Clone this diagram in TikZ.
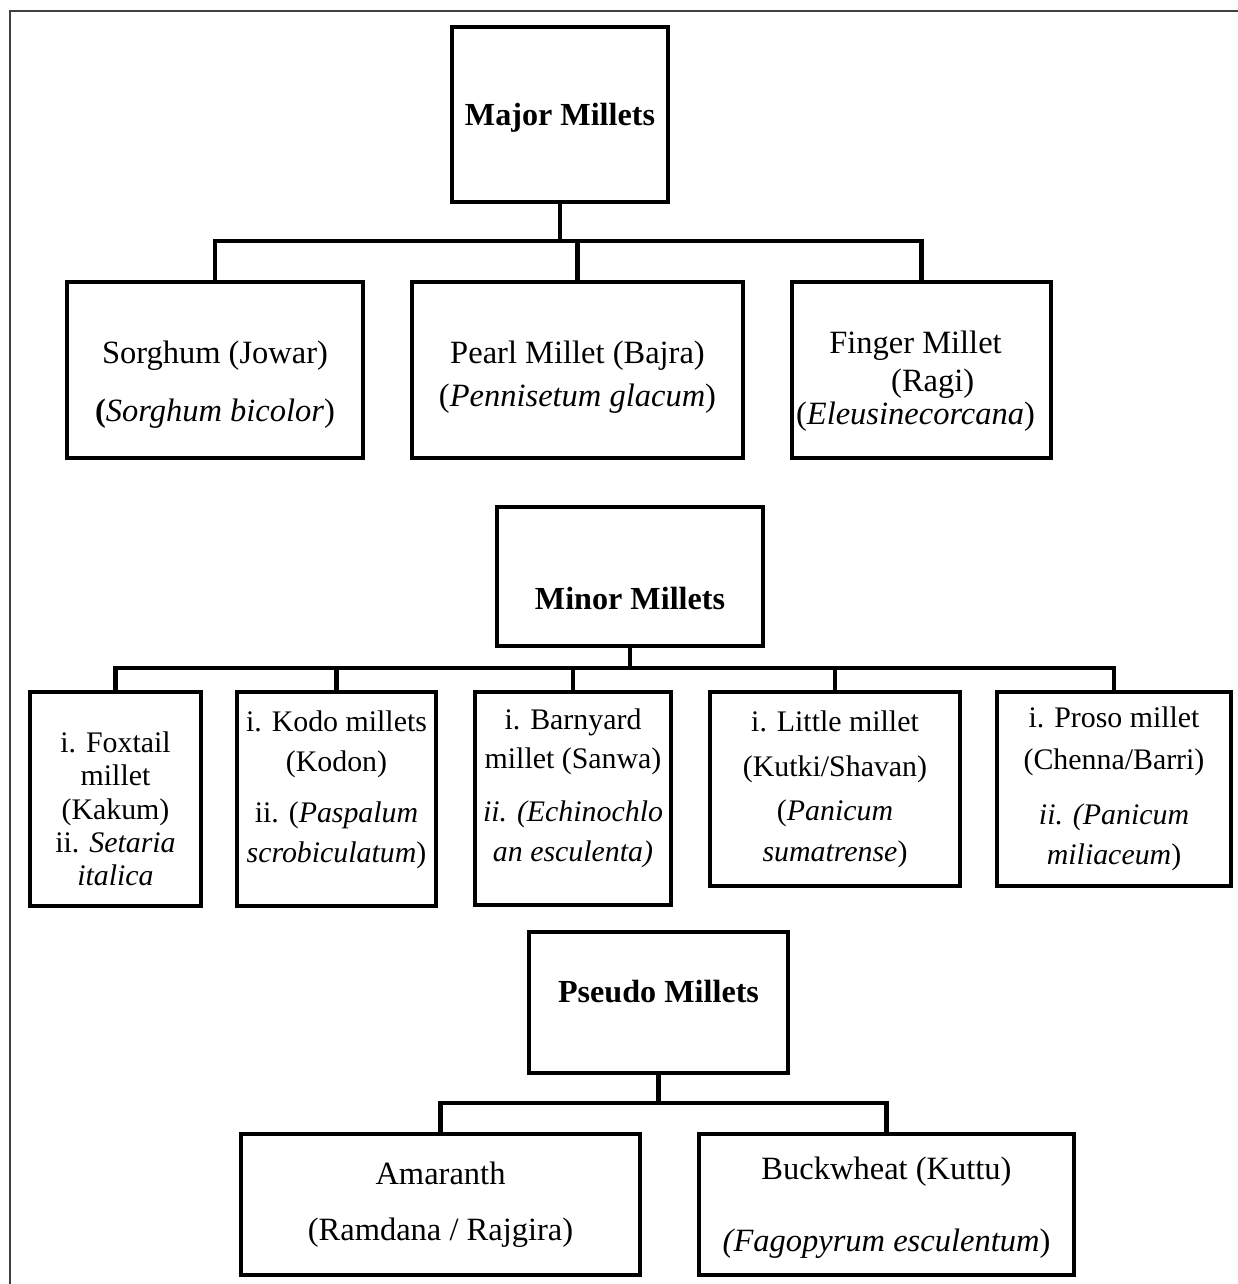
\documentclass[tikz,border=0pt]{standalone}
\usepackage{fontspec}
\setmainfont{Liberation Serif}
\usetikzlibrary{positioning,calc}
\tikzset{
	millbox/.style={draw,line width=2.4pt,align=center,inner sep=0pt,font=\fontsize{17}{19}\selectfont},
	bigbox/.style={millbox,font=\fontsize{18.5}{20.5}\selectfont},
	headbox/.style={millbox,font=\fontsize{18.3}{20}\selectfont\bfseries},
	edge/.style={color=black,line width=2.4pt},
	frame/.style={color=black!75,line width=0.8pt}
}
\begin{document}
\begin{tikzpicture}[x=0.02cm,y=-0.02cm]
	\useasboundingbox (0,0) rectangle (1237,1284);
	\draw[frame] (10,1290) -- (10,11) -- (1245,11);
	
	%%%% major millets
	\node[headbox,minimum width=4.32cm,minimum height=3.5cm,text height=12pt,text depth=0pt] (major) at (560,114.5) {Major Millets};
	\node[bigbox,minimum width=5.92cm,minimum height=3.52cm] (sorghum) at (215,370) {\rule{0pt}{29pt}Sorghum (Jowar)\\[12.5pt] \textbf{(}\textit{Sorghum bicolor})};
	\node[bigbox,minimum width=6.62cm,minimum height=3.52cm] (pearl) at (577.5,370) {\rule{0pt}{21pt}Pearl Millet (Bajra)\\[3.5pt] (\textit{Pennisetum glacum})};
	\node[bigbox,minimum width=5.18cm,minimum height=3.52cm] (finger) at (921.5,370) {\rule{0pt}{25.5pt}Finger Millet\hspace*{0.24cm}\\[1pt] \hspace*{0.45cm}(Ragi)\hspace*{0.24cm}\\[-2pt] (\textit{Eleusinecorcana})\hspace*{0.24cm}};
	\coordinate (majbar) at (0,241);
	\draw[edge] (major.south) -- (major.south |- majbar);
	\draw[edge] (sorghum.north) |- (finger.north |- majbar) -- (finger.north);
	\draw[edge] (pearl.north) -- (pearl.north |- majbar);
	
	%%%% minor millets
	\node[headbox,minimum width=5.32cm,minimum height=2.78cm,text height=38pt,text depth=0pt] (minor) at (630,576.5) {Minor Millets};
	\node[millbox,minimum width=3.42cm,minimum height=4.28cm] (foxtail) at (115.5,799) {\rule{0pt}{23pt}i. Foxtail\\ millet\\ (Kakum)\\ ii. \textit{Setaria}\\ \textit{italica}};
	\node[millbox,minimum width=3.98cm,minimum height=4.28cm] (kodo) at (336.5,799) {i. Kodo millets\\[4pt] (Kodon)\\[10pt] ii. (\textit{Paspalum}\\[4pt] \textit{scrobiculatum})\rule[-14pt]{0pt}{14pt}};
	\node[millbox,minimum width=3.92cm,minimum height=4.26cm] (barnyard) at (573,798.5) {i. Barnyard\\[3pt] millet (Sanwa)\\[11pt] \textit{ii. (Echinochlo}\\[4pt] \textit{an esculenta)}\rule[-15pt]{0pt}{15pt}};
	\node[millbox,minimum width=5.0cm,minimum height=3.88cm] (little) at (835,789) {i. Little millet\\[7pt] (Kutki/Shavan)\\[6pt] (\textit{Panicum}\\[4pt] \textit{sumatrense})};
	\node[millbox,minimum width=4.68cm,minimum height=3.88cm] (proso) at (1114,789) {i. Proso millet\\[5pt] (Chenna/Barri)\\[12pt] \textit{ii. (Panicum}\\[4pt] \textit{miliaceum})};
	\coordinate (minbar) at (0,668);
	\draw[edge] (minor.south) -- (minor.south |- minbar);
	\draw[edge] (foxtail.north) |- (proso.north |- minbar) -- (proso.north);
	\draw[edge] (kodo.north) -- (kodo.north |- minbar);
	\draw[edge] (barnyard.north) -- (barnyard.north |- minbar);
	\draw[edge] (little.north) -- (little.north |- minbar);
	
	%%%% pseudo millets
	\node[headbox,minimum width=5.18cm,minimum height=2.82cm,text height=6pt,text depth=6pt] (pseudo) at (658.5,1002.5) {Pseudo Millets};
	\node[bigbox,minimum width=7.98cm,minimum height=2.82cm] (amaranth) at (440.5,1204.5) {Amaranth\\[11.5pt] (Ramdana / Rajgira)};
	\node[bigbox,minimum width=7.5cm,minimum height=2.82cm] (buckwheat) at (886.5,1204.5) {\rule{0pt}{16pt}Buckwheat (Kuttu)\\[20.5pt] \textit{(Fagopyrum esculentum})};
	\coordinate (psebar) at (0,1103);
	\draw[edge] (pseudo.south) -- (pseudo.south |- psebar);
	\draw[edge] (amaranth.north) |- (buckwheat.north |- psebar) -- (buckwheat.north);
	
\end{tikzpicture}
\end{document}
